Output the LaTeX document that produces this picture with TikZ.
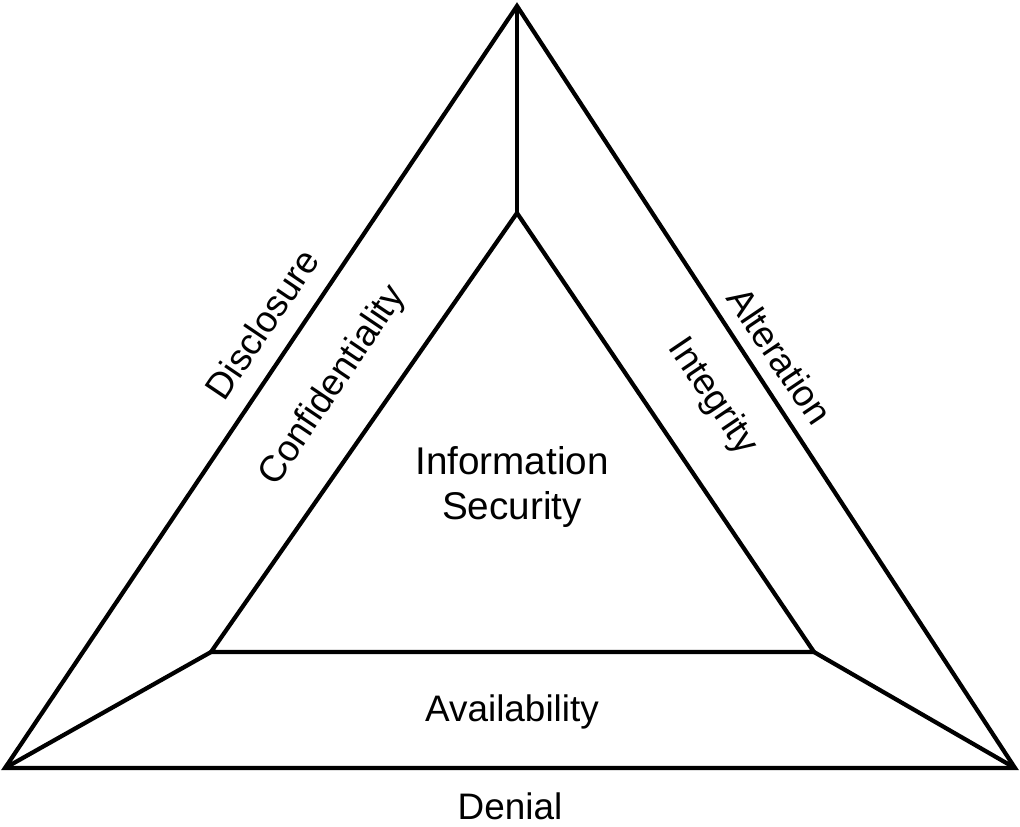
\documentclass[tikz,border=0pt]{standalone}
\usepackage{fontspec}
\setmainfont{Liberation Sans}
\begin{document}
\begin{tikzpicture}[x=0.02cm,y=-0.02cm,
	edge/.style={line width=2.4pt, line join=miter},
	lbl/.style={font=\fontsize{21}{25}\selectfont, inner sep=0pt, align=center}]
	\useasboundingbox (0,0) rectangle (1020,826);
	%outer corners
	\coordinate (ot) at (517,6);
	\coordinate (ol) at (5,768);
	\coordinate (or) at (1015,768);
	%inner corners
	\coordinate (it) at (517,213);
	\coordinate (il) at (211,652);
	\coordinate (ir) at (814,652);
	%triangles
	\draw[edge] (ot) -- (or) -- (ol) -- cycle;
	\draw[edge] (it) -- (ir) -- (il) -- cycle;
	%joins
	\draw[edge] (ot) -- (it);
	\draw[edge] (ol) -- (il);
	\draw[edge] (or) -- (ir);

	%threats
	\node[lbl, rotate=56] (disclosure) at (262,324) {Disclosure};
	\node[lbl, rotate=-56] (alteration) at (780,356) {Alteration};
	\node[lbl] (denial) at (510,806) {Denial};
	%goals
	\node[lbl, rotate=56] (confidentiality) at (333,386) {Confidentiality};
	\node[lbl, rotate=-56] (integrity) at (712,397) {Integrity};
	\node[lbl] (availability) at (512,712) {Availability};
	\node[lbl, font=\fontsize{22}{26}\selectfont] (infosec) at (512,487) {Information\\Security};
\end{tikzpicture}
\end{document}
